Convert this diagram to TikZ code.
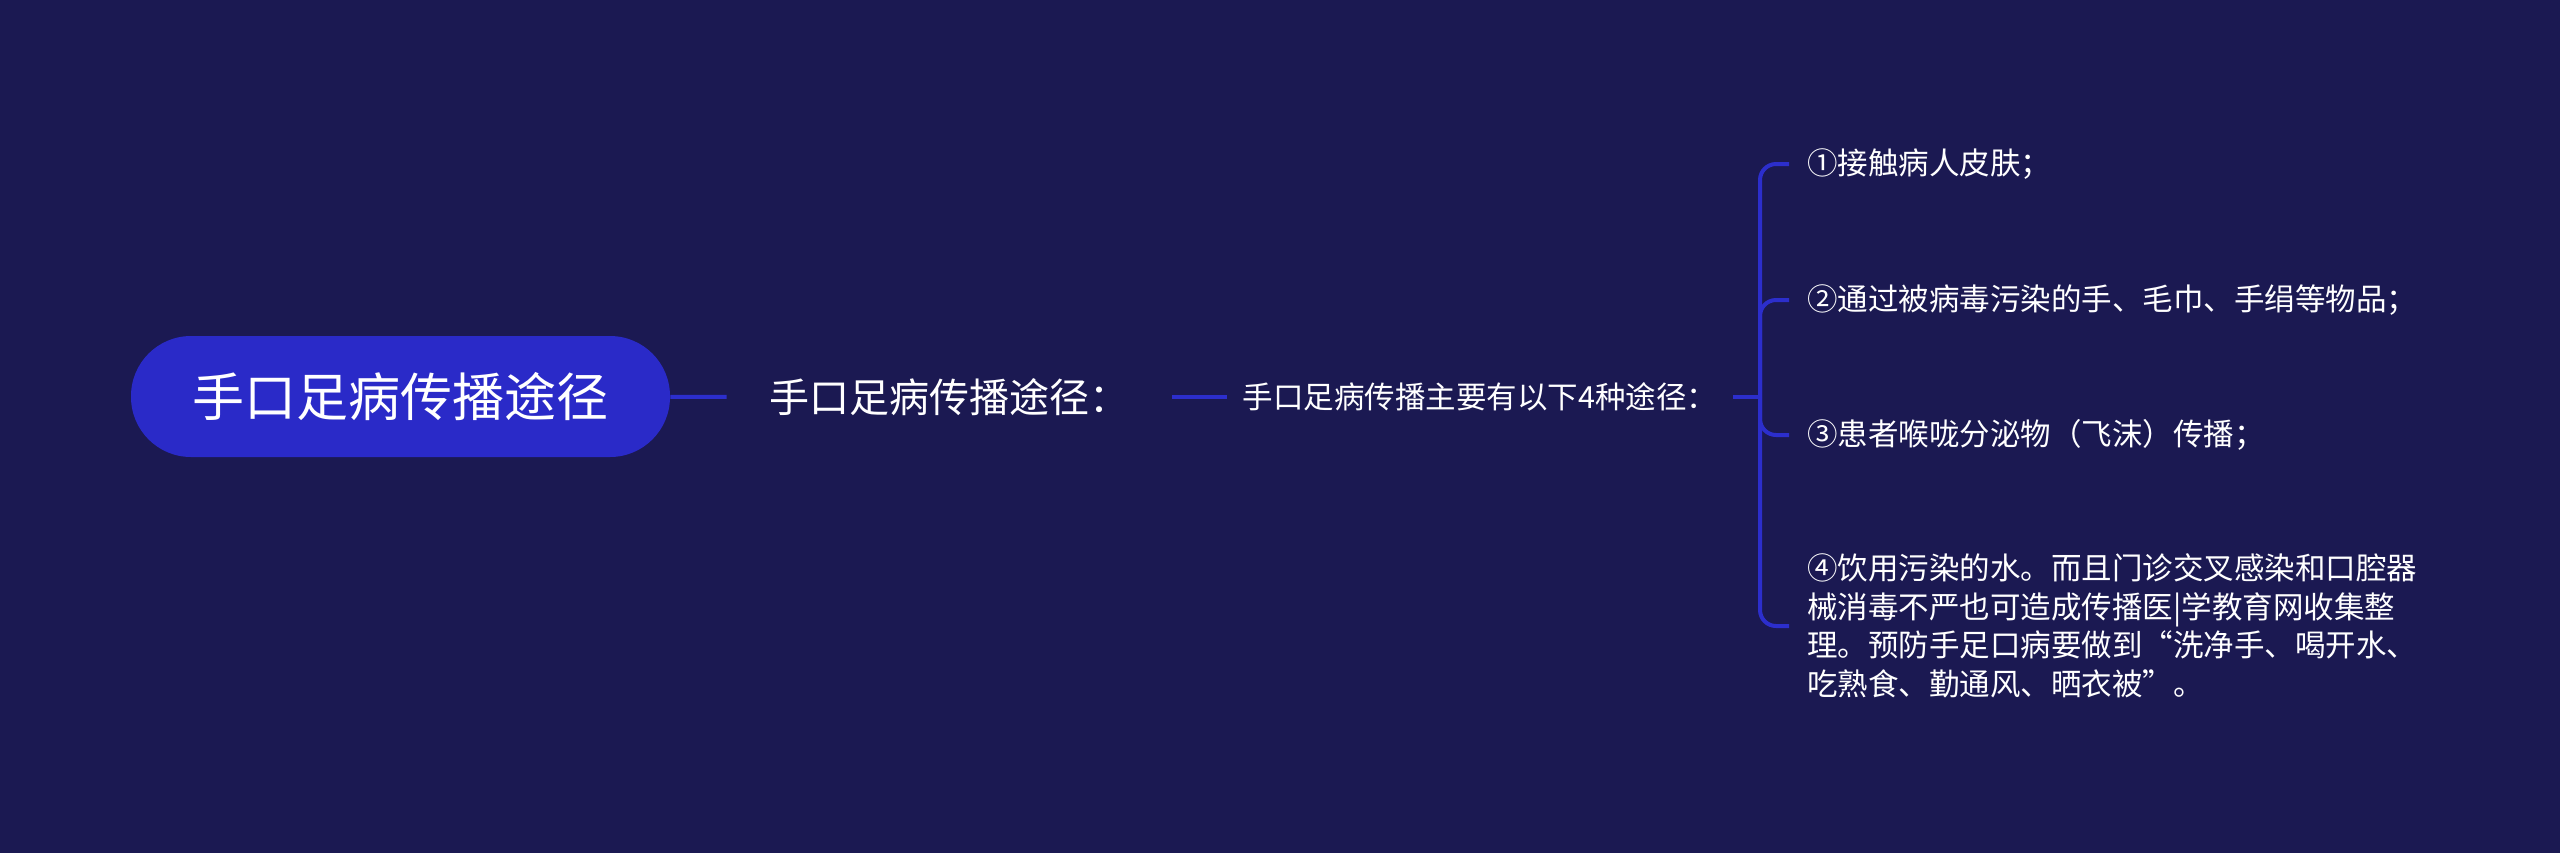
\documentclass[tikz,border=0pt]{standalone}
\usepackage{fontspec}
\setmainfont{Noto Sans CJK SC}
\definecolor{bgnavy}{RGB}{27,25,82}
\definecolor{pillblue}{RGB}{42,42,200}
\definecolor{linkblue}{RGB}{44,46,204}
\begin{document}
\begin{tikzpicture}[x=0.5pt,y=-0.5pt,
    link/.style={draw=linkblue,line width=2pt},
    rootbox/.style={fill=pillblue,rounded corners=30pt,minimum width=269.5pt,minimum height=60.5pt,text=white,font=\fontsize{26}{30}\selectfont},
    midbox/.style={text=white,inner xsep=0pt},
    leafbox/.style={text=white,anchor=west,inner xsep=9pt,align=left,font=\fontsize{15.25}{19.25}\selectfont}]
  \fill[bgnavy] (0,0) rectangle (2560,853);
  \useasboundingbox (0,0) rectangle (2560,853);
  \node[rootbox] (root) at (400.5,396.5) {手口足病传播途径};
  \node[midbox,minimum width=222.5pt,font=\fontsize{20}{23}\selectfont] (sub) at (949.5,397) {手口足病传播途径：};
  \node[midbox,minimum width=253pt,font=\fontsize{15.25}{18}\selectfont] (ways) at (1480,397) {手口足病传播主要有以下4种途径：};
  \coordinate (hub) at (1760,397);
  \node[leafbox] (leaf1) at (1789,164) {①接触病人皮肤；};
  \node[leafbox] (leaf2) at (1789,300) {②通过被病毒污染的手、毛巾、手绢等物品；};
  \node[leafbox] (leaf3) at (1789,435) {③患者喉咙分泌物（飞沫）传播；};
  \node[leafbox] (leaf4) at (1789,626) {④饮用污染的水。而且门诊交叉感染和口腔器\\械消毒不严也可造成传播医|学教育网收集整\\理。预防手足口病要做到“洗净手、喝开水、\\吃熟食、勤通风、晒衣被”。};
  \draw[link] (root) -- (sub);
  \draw[link] (sub) -- (ways);
  \draw[link] (ways) -- (hub);
  \foreach \n in {1,...,4}
    \draw[link,rounded corners=8pt] (hub) |- (leaf\n.west);
\end{tikzpicture}
\end{document}
